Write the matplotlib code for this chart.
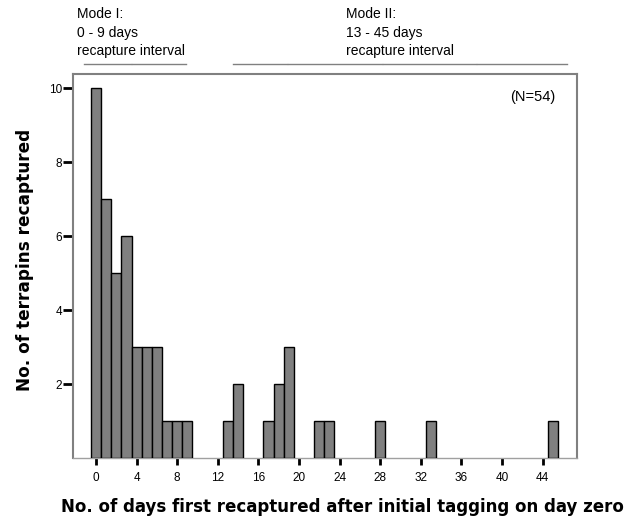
import matplotlib
matplotlib.use("Agg")
import matplotlib.pyplot as plt
from matplotlib.lines import Line2D
import matplotlib.transforms as mtransforms

days = [0, 1, 2, 3, 4, 5, 6, 7, 8, 9, 13, 14, 17, 18, 19, 22, 23, 28, 33, 45]
counts = [10, 7, 5, 6, 3, 3, 3, 1, 1, 1, 1, 2, 1, 2, 3, 1, 1, 1, 1, 1]
xticks = [0, 4, 8, 12, 16, 20, 24, 28, 32, 36, 40, 44]
yticks = [2, 4, 6, 8, 10]

plt.rcParams['font.family'] = ['Liberation Sans', 'DejaVu Sans']

fig = plt.figure(figsize=(6.36, 5.21), dpi=100)
ax = fig.add_axes([73/636, 1-458/521, (577-73)/636, (458-74)/521])

ax.bar(days, counts, width=1.0, color='#808080', edgecolor='black', linewidth=1.0, zorder=3)
ax.set_xlim(-2.27, 47.4)
ax.set_ylim(0, 10.38)
ax.set_xticks(xticks)
ax.set_yticks(yticks)
ax.tick_params(axis='x', length=5, width=2, labelsize=8.5, pad=5, color='black')
ax.tick_params(axis='y', length=7, width=2, labelsize=8.5, pad=1, color='black')
for s in ax.spines.values():
    s.set_color('#808080')
    s.set_linewidth(1.5)
ax.spines['bottom'].set_linewidth(1.0)
ax.spines['bottom'].set_color('#a0a0a0')

ax.text(555/636, 1-97/521, '(N=54)', transform=fig.transFigure, ha='right', va='center', fontsize=10.5)

fig.text(342/636, 1-507/521, 'No. of days first recaptured after initial tagging on day zero',
         fontsize=12.0, fontweight='bold', family='DejaVu Sans', ha='center', va='center')
fig.text(25/636, 1-260/521, 'No. of terrapins recaptured',
         fontsize=12.2, fontweight='bold', family='DejaVu Sans', ha='center', va='center',
         rotation=90)

# Mode annotations above the axes
fig.text(77/636, 1-14/521, 'Mode I:', fontsize=10, va='center', ha='left')
fig.text(77/636, 1-33/521, '0 - 9 days', fontsize=10, va='center', ha='left')
fig.text(77/636, 1-51/521, 'recapture interval', fontsize=10, va='center', ha='left')
fig.text(346/636, 1-14/521, 'Mode II:', fontsize=10, va='center', ha='left')
fig.text(346/636, 1-33/521, '13 - 45 days', fontsize=10, va='center', ha='left')
fig.text(346/636, 1-51/521, 'recapture interval', fontsize=10, va='center', ha='left')

trans = mtransforms.blended_transform_factory(ax.transData, fig.transFigure)
yline = 1-64/521
segs = [(-1.2, 3.4), (3.5, 8.85), (13.5, 18.85), (18.95, 28.15), (28.25, 37.45), (37.55, 46.4)]
for x0, x1 in segs:
    fig.add_artist(Line2D([x0, x1], [yline, yline], transform=trans, color='#808080', linewidth=1.0))

fig.savefig('out.png', dpi=100)
